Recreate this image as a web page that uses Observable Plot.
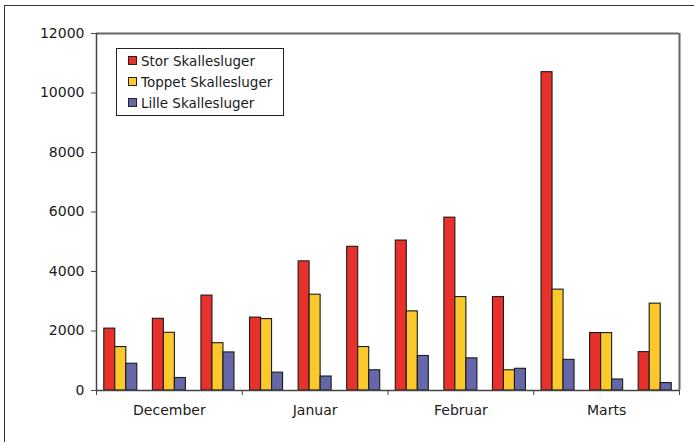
<!DOCTYPE html>
<html>
<head>
<meta charset="utf-8">
<script src="https://cdn.jsdelivr.net/npm/d3@7"></script>
<script src="https://cdn.jsdelivr.net/npm/@observablehq/plot@0.6"></script>
<style>
  html, body { margin: 0; padding: 0; background: #fff; overflow: hidden; }
  #wrap { position: relative; width: 694px; height: 442px; font-family: "DejaVu Sans", Verdana, sans-serif; }
  #outer { position: absolute; left: 4px; top: 5px; width: 760px; height: 500px; border-left: 1.5px solid #333; border-top: 1.5px solid #333; }
  #legend { position: absolute; left: 116px; top: 48px; width: 166px; height: 66px; border: 1.2px solid #222; background: #fff; }
  .item { position: absolute; left: 11px; font-size: 13.5px; color: #1a1a1a; line-height: 16px; white-space: nowrap; }
  .sw { display: inline-block; width: 7px; height: 7px; border: 1px solid #222; margin-right: 4px; vertical-align: 1px; }
  svg { position: absolute; left: 0; top: 0; }
</style>
</head>
<body>
<div id="wrap">
  <div id="outer"></div>
  <div id="chart"></div>
  <div id="legend"></div>
</div>
<script>
// Data
const months = ["December", "Januar", "Februar", "Marts"];
const seriesNames = ["Stor Skallesluger", "Toppet Skallesluger", "Lille Skallesluger"];
const seriesColors = ["#e8312b", "#fbc92c", "#6667a8"];
const stor   = [2080, 2410, 3190, 2450, 4340, 4830, 5040, 5810, 3140, 10700, 1930, 1290];
const toppet = [1460, 1940, 1590, 2400, 3220, 1460, 2660, 3140, 680, 3390, 1930, 2920];
const lille  = [900, 420, 1280, 600, 470, 680, 1160, 1080, 730, 1030, 370, 250];
const yTicks = [0, 2000, 4000, 6000, 8000, 10000, 12000];

const groupsPerMonth = 3;
const nGroups = stor.length;
const pad = 0.16;               // gap half-width, in group units
const bw = (1 - 2 * pad) / 3;   // bar width, in group units

const table = [];
[stor, toppet, lille].forEach((vals, s) => {
  vals.forEach((v, g) => table.push({group: g, s, series: seriesNames[s], value: v}));
});

const monthTicks = d3.range(0, nGroups + 1, groupsPerMonth);
const monthCenters = months.map((m, i) => i * groupsPerMonth + groupsPerMonth / 2);

const chart = Plot.plot({
  width: 694,
  height: 442,
  marginLeft: 96,
  marginRight: 15,
  marginTop: 33,
  marginBottom: 52,
  style: {fontFamily: "DejaVu Sans, Verdana, sans-serif", fontSize: "14px", color: "#1a1a1a", background: "transparent"},
  x: {type: "linear", domain: [0, nGroups], axis: null, label: null},
  y: {domain: [0, 12000], axis: null, label: null},
  color: {domain: seriesNames, range: seriesColors},
  marks: [
    Plot.rectY(table, {
      x1: d => d.group + pad + d.s * bw,
      x2: d => d.group + pad + (d.s + 1) * bw,
      y1: 0,
      y2: "value",
      fill: "series",
      stroke: "#1a1a1a",
      strokeWidth: 1.1
    }),
    Plot.ruleY([12000], {stroke: "#666", strokeWidth: 2}),
    Plot.ruleX([nGroups], {stroke: "#666", strokeWidth: 2}),
    Plot.ruleX([0], {stroke: "#444", strokeWidth: 1.5}),
    Plot.ruleY([0], {stroke: "#444", strokeWidth: 1.5}),
    Plot.axisY({ticks: yTicks, tickFormat: d3.format("d"), tickSize: 5, tickPadding: 7, fontSize: 14, stroke: "#444", label: null}),
    Plot.axisX({ticks: monthTicks, tickFormat: () => "", tickSize: 5, stroke: "#444", label: null}),
    Plot.axisX({ticks: monthCenters, tickFormat: (d, i) => months[i], tickSize: 0, tickPadding: 15, fontSize: 14, label: null})
  ]
});
document.getElementById("chart").appendChild(chart);

// Legend
const legend = document.getElementById("legend");
seriesNames.forEach((name, i) => {
  const div = document.createElement("div");
  div.className = "item";
  div.style.top = (4 + i * 21) + "px";
  const sw = document.createElement("span");
  sw.className = "sw";
  sw.style.background = seriesColors[i];
  div.appendChild(sw);
  div.appendChild(document.createTextNode(name));
  legend.appendChild(div);
});
</script>
</body>
</html>
